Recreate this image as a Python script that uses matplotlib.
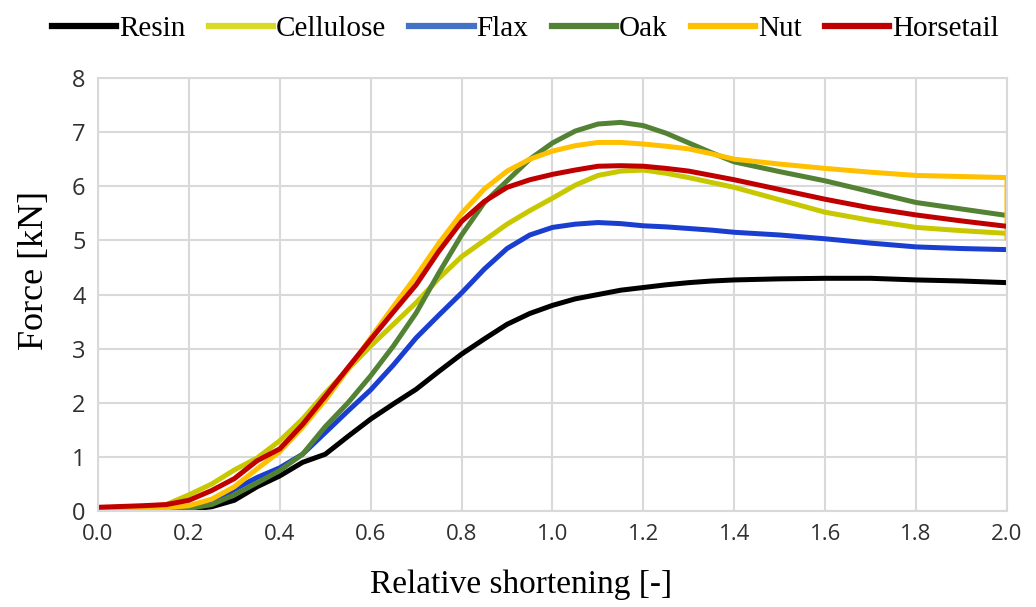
import numpy as np
import matplotlib
matplotlib.use("Agg")
import matplotlib.pyplot as plt

# relative shortening and force readings (kN)
x = [0.0, 0.1, 0.15, 0.2, 0.25, 0.3, 0.35, 0.4, 0.45, 0.5, 0.55, 0.6, 0.65, 0.7, 0.75,
     0.8, 0.85, 0.9, 0.95, 1.0, 1.05, 1.1, 1.15, 1.2, 1.25, 1.3, 1.35, 1.4, 1.5,
     1.6, 1.7, 1.8, 1.9, 2.0]
resin = [0.02, 0.02, 0.02, 0.03, 0.08, 0.2, 0.45, 0.65, 0.9, 1.05, 1.38, 1.7, 1.98, 2.25, 2.58,
         2.9, 3.18, 3.45, 3.65, 3.8, 3.92, 4.0, 4.08, 4.13, 4.18, 4.22, 4.25, 4.27, 4.29,
         4.3, 4.3, 4.27, 4.25, 4.22]
cellulose = [0.05, 0.08, 0.12, 0.3, 0.5, 0.76, 0.98, 1.3, 1.7, 2.18, 2.62, 3.05, 3.45, 3.85, 4.3,
             4.7, 5.0, 5.3, 5.55, 5.78, 6.02, 6.2, 6.28, 6.3, 6.24, 6.16, 6.07, 5.98, 5.75,
             5.52, 5.37, 5.24, 5.18, 5.13]
flax = [0.0, 0.02, 0.03, 0.05, 0.15, 0.4, 0.62, 0.8, 1.05, 1.45, 1.85, 2.24, 2.7, 3.2, 3.62,
        4.03, 4.47, 4.85, 5.1, 5.24, 5.3, 5.33, 5.31, 5.27, 5.25, 5.22, 5.19, 5.15, 5.1,
        5.03, 4.95, 4.88, 4.85, 4.83]
oak = [0.0, 0.02, 0.03, 0.05, 0.12, 0.3, 0.52, 0.75, 1.05, 1.56, 2.0, 2.5, 3.05, 3.66, 4.4,
       5.1, 5.7, 6.1, 6.5, 6.8, 7.02, 7.15, 7.18, 7.12, 6.98, 6.8, 6.62, 6.45, 6.27,
       6.1, 5.9, 5.7, 5.58, 5.46]
nut = [0.05, 0.05, 0.06, 0.1, 0.22, 0.45, 0.78, 1.1, 1.55, 2.05, 2.62, 3.2, 3.78, 4.34, 4.95,
       5.5, 5.95, 6.28, 6.5, 6.65, 6.75, 6.81, 6.81, 6.78, 6.74, 6.69, 6.6, 6.5, 6.41,
       6.33, 6.26, 6.2, 6.18, 6.16]
nut_end = [2.0, 5.0]   # vertical drop of the Nut curve at the last point
horsetail = [0.07, 0.1, 0.12, 0.2, 0.38, 0.6, 0.93, 1.15, 1.6, 2.12, 2.65, 3.17, 3.68, 4.18, 4.8,
             5.35, 5.72, 5.98, 6.12, 6.22, 6.3, 6.37, 6.38, 6.37, 6.33, 6.28, 6.2, 6.12, 5.94,
             5.76, 5.6, 5.47, 5.36, 5.26]

names = ["Resin", "Cellulose", "Flax", "Oak", "Nut", "Horsetail"]
colors = ["#000000", "#c8c800", "#1a3fd0", "#548235", "#ffc000", "#c00000"]
legend_colors = ["#000000", "#d9d927", "#4472c4", "#548235", "#ffc000", "#c00000"]

fig = plt.figure(figsize=(10.36, 6.07), dpi=100)
ax = fig.add_axes([0.0946, 0.158, 0.8774, 0.7135])

series = [resin, cellulose, flax, oak, nut, horsetail]
for name, ys, c in zip(names, series, colors):
    xs, yy = list(x), list(ys)
    if name == "Nut":
        xs.append(nut_end[0])
        yy.append(nut_end[1])
    ax.plot(xs, yy, color=c, lw=3.6, solid_capstyle="butt", solid_joinstyle="round")

ax.set_xlim(0, 2.0)
ax.set_ylim(0, 8)
ax.set_xticks(np.arange(0, 2.01, 0.2))
ax.set_xticklabels(["%.1f" % v for v in np.arange(0, 2.01, 0.2)])
ax.set_yticks(range(0, 9))
ax.grid(True, color="#d9d9d9", lw=1.5)
ax.set_axisbelow(True)
for s in ax.spines.values():
    s.set_color("#d9d9d9")
    s.set_linewidth(1.5)
ax.tick_params(axis="x", length=0, labelsize=16, pad=9)
ax.tick_params(axis="y", length=0, labelsize=17, pad=9)
for lab in ax.get_xticklabels() + ax.get_yticklabels():
    lab.set_family("Open Sans")
    lab.set_color("#303030")

ax.set_xlabel("Relative shortening [-]", family="Liberation Serif", fontsize=24)
ax.set_ylabel("Force [kN]", family="Liberation Serif", fontsize=26)
ax.xaxis.set_label_coords(0.465, -0.134)
ax.yaxis.set_label_coords(-0.052, 0.555)

handles = [plt.Line2D([], [], color=c, lw=4.5) for c in legend_colors]
fig.legend(handles, names, loc="upper center", bbox_to_anchor=(0.507, 1.018), ncol=6,
           frameon=False, prop={"family": "Liberation Serif", "size": 21},
           handlelength=2.2, handletextpad=0.1, columnspacing=0.8)

fig.savefig("out.png", dpi=100)
